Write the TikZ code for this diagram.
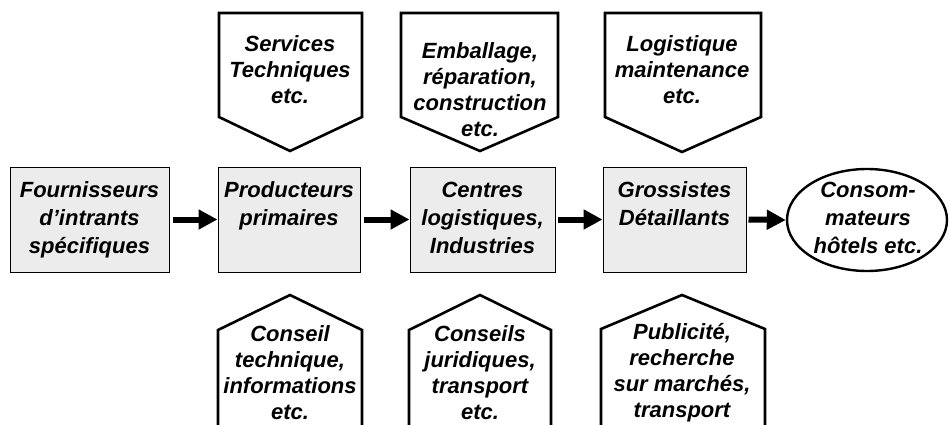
\documentclass[tikz,border=0pt]{standalone}
\usepackage{fontspec}
\setmainfont{Liberation Sans}
\usetikzlibrary{positioning, arrows.meta, shapes.geometric}
\definecolor{stagegrey}{RGB}{236,236,236}
\tikzset{
  stage/.style = {draw, fill=stagegrey, line width=1pt, inner xsep=0pt, inner ysep=15pt,
    font=\fontsize{22}{28}\selectfont\bfseries\itshape},
  flow/.style = {line width=6pt, -{Triangle[length=19pt, width=19pt]}},
  service/.style = {line width=2.6pt, line join=miter},
  lbl/.style = {align=center, inner sep=0pt, font=\fontsize{22}{26}\selectfont\bfseries\itshape},
}
\newcommand{\stagetext}[2]{\parbox[c][75pt][t]{#1}{\centering #2}}

\begin{document}
\begin{tikzpicture}[x=1pt, y=-1pt]
  \useasboundingbox (0,0) rectangle (949,425);

  % chain of actors
  \node[stage] (supp) at (89.5,219.5) {\stagetext{159pt}{Fournisseurs\\d’intrants\\spécifiques}};
  \node[stage, right=48pt of supp] (prim) {\stagetext{142pt}{Producteurs\\primaires}};
  \node[stage, right=49pt of prim] (centre) {\stagetext{145pt}{Centres\\logistiques,\\Industries}};
  \node[stage, right=47pt of centre] (gross) {\stagetext{143pt}{Grossistes\\Détaillants}};
  \node[ellipse, draw, line width=2.4pt, minimum width=160pt, minimum height=102pt, inner sep=0pt] (cons) at (867,220) {};
  \node[lbl, font=\fontsize{22}{28}\selectfont\bfseries\itshape] (constxt) at (868,218) {Consom-\\mateurs\\hôtels etc.};

  \draw[flow] ([xshift=3pt]supp.east) -- (prim.west);
  \draw[flow] ([xshift=3pt]prim.east) -- (centre.west);
  \draw[flow] ([xshift=2pt]centre.east) -- (gross.west);
  \draw[flow] ([xshift=2pt]gross.east) -- (cons.west);

  % services above
  \draw[service] (219,13) -- (362,13) -- (362,117) -- (290,151) -- (219,117) -- cycle;
  \draw[service] (401,13) -- (558,13) -- (558,117) -- (480,151) -- (401,117) -- cycle;
  \draw[service] (605,13) -- (761,13) -- (761,117) -- (682,152) -- (605,117) -- cycle;
  \node[lbl, anchor=north] (servtech) at (290,35) {Services\\Techniques\\etc.};
  \node[lbl, anchor=north] (emball) at (480,42) {Emballage,\\réparation,\\construction\\etc.};
  \node[lbl, anchor=north] (logmaint) at (682,35) {Logistique\\maintenance\\etc.};

  % services below
  \draw[service] (218,428) -- (218,330) -- (290,295) -- (362,330) -- (362,428);
  \draw[service] (409,428) -- (409,330) -- (480,295) -- (551,330) -- (551,428);
  \draw[service] (601,428) -- (601,329) -- (682,295) -- (765,329) -- (765,428);
  \node[lbl, anchor=north] (conseil) at (290,325) {Conseil\\technique,\\informations\\etc.};
  \node[lbl, anchor=north] (jurid) at (480,325) {Conseils\\juridiques,\\transport\\etc.};
  \node[lbl, anchor=north] (pub) at (682,323) {Publicité,\\recherche\\sur marchés,\\transport};
\end{tikzpicture}
\end{document}
